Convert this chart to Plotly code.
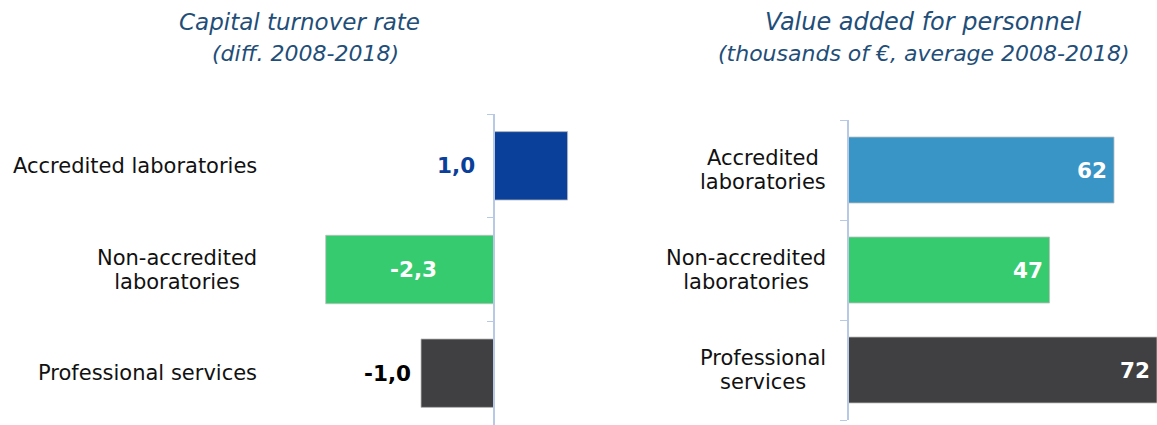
import plotly.graph_objects as go

categories = ["Accredited laboratories", "Non-accredited laboratories", "Professional services"]
left_labels = ["Accredited laboratories", "Non-accredited<br>laboratories", "Professional services"]
right_labels = ["Accredited<br>laboratories", "Non-accredited<br>laboratories", "Professional<br>services"]
turnover_diff = [1.0, -2.3, -1.0]
value_added = [62, 47, 72]
left_colors = ["#0B409A", "#37CB70", "#404042"]
right_colors = ["#3895C6", "#37CB70", "#404042"]

W, H = 1157, 425
FONT = "DejaVu Sans"
AXIS_COLOR = "#B8C9E6"
TITLE_COLOR = "#1F4E79"

# layout geometry (pixels)
L_zero, L_scale, L_dom = 494.3, 73.3, (270, 600)
R_zero, R_dom = 847.5, (847.5, 1157)

fig = go.Figure()
fig.add_trace(go.Bar(
    x=turnover_diff, y=categories, orientation="h", width=0.66,
    marker=dict(color=left_colors, line=dict(color="rgba(190,190,190,0.8)", width=1)),
    xaxis="x", yaxis="y", hoverinfo="skip", showlegend=False,
))
fig.add_trace(go.Bar(
    x=value_added, y=categories, orientation="h", width=0.66,
    marker=dict(color=right_colors, line=dict(color="rgba(190,190,190,0.8)", width=1)),
    xaxis="x2", yaxis="y2", hoverinfo="skip", showlegend=False,
))

annotations = []
# titles
for cx1, cx2, t1, t2, s1 in [(299, 305.5, "Capital turnover rate", "(diff. 2008-2018)", 23),
                             (923.5, 923.5, "Value added for personnel", "(thousands of €, average 2008-2018)", 24)]:
    annotations.append(dict(x=cx1 / W, y=1 - 22 / H, xref="paper", yref="paper", text=f"<i>{t1}</i>",
                            showarrow=False, font=dict(family=FONT, size=s1, color=TITLE_COLOR),
                            xanchor="center", yanchor="middle"))
    annotations.append(dict(x=cx2 / W, y=1 - 53 / H, xref="paper", yref="paper", text=f"<i>{t2}</i>",
                            showarrow=False, font=dict(family=FONT, size=22, color=TITLE_COLOR),
                            xanchor="center", yanchor="middle"))


def label_text(lab):
    # larger glyphs inside a smaller base font -> tighter line spacing (~24px)
    return "<br>".join(f'<span style="font-size:21px">{ln}</span>' for ln in lab.split("<br>"))


for cat, lab in zip(categories, left_labels):
    annotations.append(dict(x=259 / W, y=cat, xref="paper", yref="y", text=label_text(lab),
                            showarrow=False, xanchor="right", yanchor="middle", align="center",
                            font=dict(family=FONT, size=18.5, color="#111111")))
for cat, lab in zip(categories, right_labels):
    annotations.append(dict(x=828 / W, y=cat, xref="paper", yref="y2", text=label_text(lab),
                            showarrow=False, xanchor="right", yanchor="middle", align="center",
                            font=dict(family=FONT, size=18.5, color="#111111")))

# value labels, left chart
for cat, v, c in zip(categories, turnover_diff, left_colors):
    txt = f"<b>{v:.1f}</b>".replace(".", ",")
    if v > 0:
        annotations.append(dict(x=0, y=cat, xref="x", yref="y", text=txt, showarrow=False,
                                xanchor="right", xshift=-17, font=dict(family=FONT, size=21.5, color=c)))
    elif v < -1.5:
        annotations.append(dict(x=v / 2, y=cat, xref="x", yref="y", text=txt, showarrow=False,
                                xanchor="center", xshift=3, font=dict(family=FONT, size=21.5, color="white")))
    else:
        annotations.append(dict(x=v, y=cat, xref="x", yref="y", text=txt, showarrow=False,
                                xanchor="right", xshift=-8, font=dict(family=FONT, size=21.5, color="black")))
# value labels, right chart
for cat, v in zip(categories, value_added):
    annotations.append(dict(x=v, y=cat, xref="x2", yref="y2", text=f"<b>{v}</b>", showarrow=False,
                            xanchor="right", xshift=-5, font=dict(family=FONT, size=21.5, color="white")))

fig.update_layout(
    width=W, height=H, margin=dict(l=0, r=0, t=0, b=0),
    paper_bgcolor="white", plot_bgcolor="white",
    font=dict(family=FONT),
    xaxis=dict(domain=[L_dom[0] / W, L_dom[1] / W],
               range=[(L_dom[0] - L_zero) / L_scale, (L_dom[1] - L_zero) / L_scale],
               visible=False, anchor="y", fixedrange=True),
    yaxis=dict(domain=[0, 1 - 114 / H], anchor="free", position=L_zero / W,
               categoryorder="array", categoryarray=categories[::-1],
               showline=True, linecolor=AXIS_COLOR, linewidth=1.5,
               ticks="outside", tickson="boundaries", ticklen=7, tickcolor=AXIS_COLOR,
               showticklabels=False, showgrid=False, zeroline=False, fixedrange=True),
    xaxis2=dict(domain=[R_dom[0] / W, R_dom[1] / W], range=[0, 72],
                visible=False, anchor="y2", fixedrange=True),
    yaxis2=dict(domain=[1 - 420 / H, 1 - 120 / H], anchor="free", position=R_zero / W,
                categoryorder="array", categoryarray=categories[::-1],
                showline=True, linecolor=AXIS_COLOR, linewidth=1.5,
                ticks="outside", tickson="boundaries", ticklen=7, tickcolor=AXIS_COLOR,
                showticklabels=False, showgrid=False, zeroline=False, fixedrange=True),
    annotations=annotations,
)

fig.write_html("out.html", config={"displayModeBar": False},
               post_script="document.body.style.margin='0';document.body.style.overflow='hidden';")
